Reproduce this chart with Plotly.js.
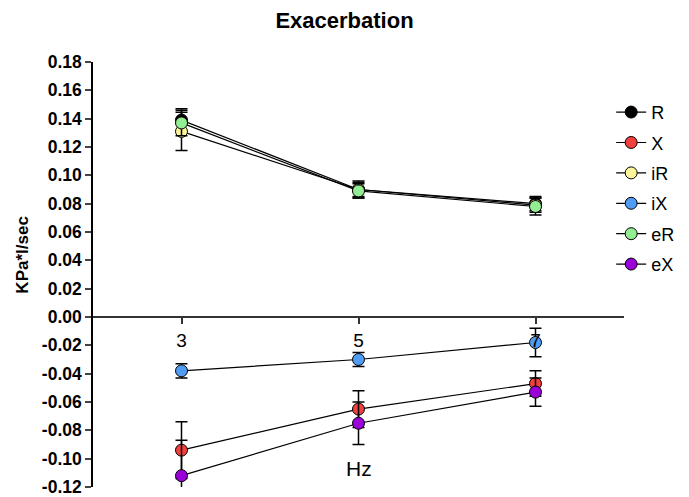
<!DOCTYPE html>
<html><head><meta charset="utf-8">
<script src="https://cdn.plot.ly/plotly-3.0.1.min.js"></script>
<style>html,body{margin:0;padding:0;background:#fff}#chart{width:689px;height:497px}</style>
</head><body><div id="chart"></div>
<script>
const freq = [3, 5, 7];
const seriesNames = ["R", "X", "iR", "iX", "eR", "eX"];
const R = [0.139, 0.090, 0.080];
const R_err = [0.008, 0.006, 0.005];
const X = [-0.094, -0.065, -0.047];
const X_err = [0.020, 0.013, 0.009];
const iR = [0.131, 0.090, 0.079];
const iR_err = [0.0135, 0.005, 0.005];
const iX = [-0.038, -0.030, -0.018];
const iX_err = [0.005, 0.005, 0.010];
const eR = [0.137, 0.089, 0.078];
const eR_err = [0.009, 0.005, 0.006];
const eX = [-0.112, -0.075, -0.053];
const eX_err = [0.025, 0.015, 0.010];
const yTickVals = [-0.12,-0.10,-0.08,-0.06,-0.04,-0.02,0,0.02,0.04,0.06,0.08,0.10,0.12,0.14,0.16,0.18];

const values = [R, X, iR, iX, eR, eX];
const errs = [R_err, X_err, iR_err, iX_err, eR_err, eX_err];
const colors = ["#000000", "#f23f3f", "#fdf59a", "#4f9cf2", "#93ee93", "#9b00db"];

const traces = seriesNames.map((n, i) => ({
  type: "scatter", mode: "lines+markers", name: n, x: freq, y: values[i],
  legendgroup: n,
  line: {color: "#000", width: 1.2},
  marker: {size: 12, color: colors[i], line: {color: "#000", width: 1}},
  error_y: {type: "data", array: errs[i], visible: true, color: "#000", thickness: 1.5, width: 6}
}));

const font = "Liberation Sans, Arial, sans-serif";
const layout = {
  width: 689, height: 497,
  margin: {l: 93, r: 64, t: 62, b: 10},
  paper_bgcolor: "#fff", plot_bgcolor: "#fff",
  title: {text: "<b>Exacerbation</b>", x: 0.5, xref: "container", xanchor: "center", y: 0.96, yanchor: "middle",
          font: {family: font, size: 22, color: "#000"}},
  showlegend: true,
  legend: {x: 0.974, xanchor: "left", y: 0.925, yanchor: "top", bgcolor: "rgba(0,0,0,0)",
           font: {family: font, size: 18, color: "#000"}, tracegroupgap: 4, itemwidth: 30},
  xaxis: {range: [2, 8], anchor: "free", position: 0.4, showline: true, linecolor: "#333",
          linewidth: 1.5, ticks: "outside", ticklen: 6, tickwidth: 1.5, tickcolor: "#333",
          tickvals: freq, ticktext: freq.map(String), showgrid: false, zeroline: false,
          tickfont: {family: font, size: 19, color: "#000"}},
  yaxis: {range: [-0.12, 0.18], showline: true, linecolor: "#000", linewidth: 1.5,
          ticks: "outside", ticklen: 6, tickwidth: 1.5, tickvals: yTickVals,
          ticktext: yTickVals.map(v => "<b>" + v.toFixed(2) + "</b>"),
          showgrid: false, zeroline: false, ticklabeloverflow: "allow",
          tickfont: {family: font, size: 17.5, color: "#000"}},
  annotations: [
    {text: "Hz", x: 5, xref: "x", y: -0.1066, yref: "y", yanchor: "middle", showarrow: false,
     font: {family: font, size: 21, color: "#000"}},
    {text: "<b>KPa*l/sec</b>", textangle: -90, xref: "paper", x: -71.5 / 532, xanchor: "center",
     yref: "paper", y: (487 - 255) / 425, yanchor: "middle", showarrow: false,
     font: {family: font, size: 17, color: "#000"}}
  ]
};
Plotly.newPlot("chart", traces, layout, {displayModeBar: false});
</script></body></html>
